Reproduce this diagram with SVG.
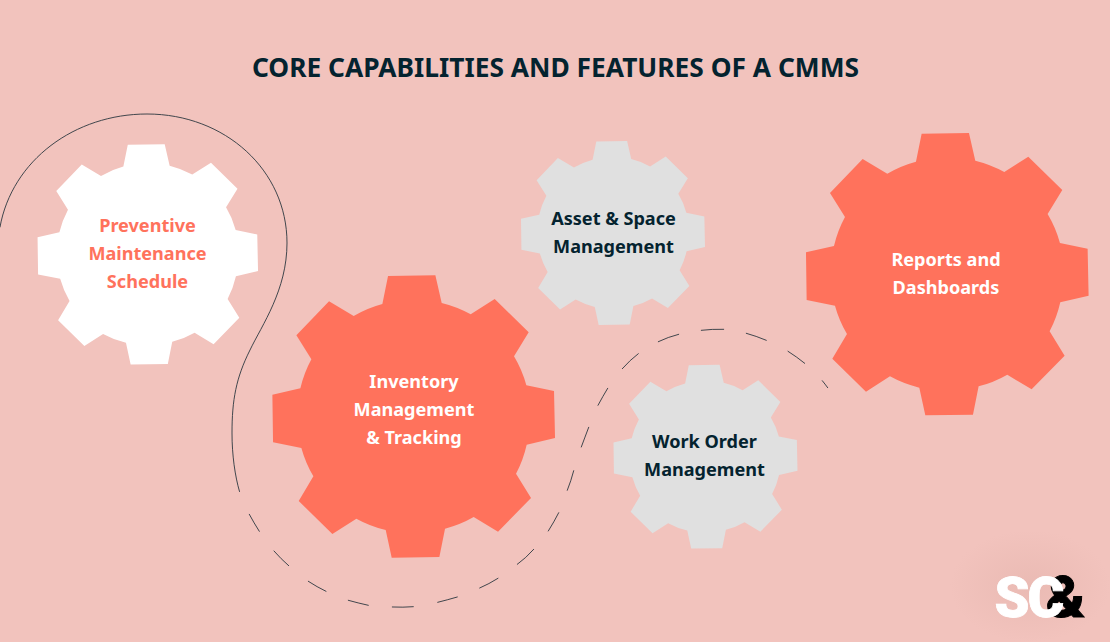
<svg xmlns="http://www.w3.org/2000/svg" width="1110" height="642" viewBox="0 0 1110 642">
<style>
.lbl{font-family:"Noto Sans",sans-serif;font-weight:700;font-size:18.1px;text-anchor:middle}
.w{fill:#fff}.o{fill:#ff725c}.d{fill:#04232f}.g{fill:#e0e0e0}
.ttl{font-family:"Noto Sans",sans-serif;font-weight:700;font-size:26.35px;text-anchor:middle;fill:#04232f}
.ln{fill:none;stroke:#2c3840;stroke-width:.9;stroke-linecap:round}
.logo{font-family:"Roboto",sans-serif;font-weight:900;font-size:56px}
</style>
<defs>
<path id="gear" d="M-94-337.500L-77-421.500L65-423.500L84-340.500A350 350 0 0 1 171-306.500L243-352.500L345-252.500L301-180.500A350 350 0 0 1 338-93.500L421-76.500L424 64.500L339 84.500A350 350 0 0 1 307 171.500L352 244.500L253 345.500L180 301.500A350 350 0 0 1 94 336.500L77 421.500L-66 423.500L-84 340.500A350 350 0 0 1-172 306.500L-244 352.500L-345 253.500L-301 179.500A350 350 0 0 1-337 94.500L-422 77.500L-424-65.500L-340-84.500A350 350 0 0 1-307-171.500L-352-243.500L-254-345.500L-180-301.500A350 350 0 0 1-94-337.500Z"/>
<radialGradient id="glow"><stop offset="0" stop-color="#e8b8b1" stop-opacity=".8"/><stop offset="1" stop-color="#e8b8b1" stop-opacity="0"/></radialGradient>
</defs>
<rect width="1110" height="642" fill="#f2c3bd"/>
<rect x="950" y="530" width="160" height="112" fill="url(#glow)"/>
<text class="ttl" x="555.500" y="77">CORE CAPABILITIES AND FEATURES OF A CMMS</text>
<g id="connectors">
<path class="ln" d="M0 227C12 160 75 114 147 114C225 114 287 170 287 243C287 290 262 325 250 350C236 378 232 400 232 433C232 455 235 476 239.500 491.500"/>
<path class="ln" d="M249.300 514.300Q254 523 259.300 531.300M274 551Q281 559 288.700 565.700M308.300 581.300Q317 587 326 591.300M348.300 600.300Q358 603 368.300 605.300M392.300 607Q403 607.500 413.300 606.700M437.700 602.300Q447 600 457.300 597M479.700 588Q489 584 498 578.300M517.300 564.300Q526 558 533.700 549.300M548.300 531Q554 522 558.700 512.700M567.300 490.300Q571 481 573.700 470.700M581.300 447Q585 437 588.700 427.300M598 405.300Q603 396 607.700 388.300M622.300 368.700Q630 360 638.300 353.700M658.300 341.700Q668 337 678.700 334.300M701.300 330.300Q712 329 723.700 329.300M746.300 333.300Q756 336 766.300 340.300M788 351.300Q797 357 804.700 363.300M822.300 380.700Q825 384 827.700 387.700"/>
</g>
<g id="preventive">
<use href="#gear" class="w" transform="translate(147.800 254.300) scale(.26)"/>
<text class="lbl o" x="147.500" y="232">Preventive</text>
<text class="lbl o" x="147.500" y="260">Maintenance</text>
<text class="lbl o" x="147.500" y="288">Schedule</text>
</g>
<g id="inventory">
<use href="#gear" class="o" transform="translate(413.700 416.500) scale(.3333)"/>
<text class="lbl w" x="414" y="388">Inventory</text>
<text class="lbl w" x="414" y="416">Management</text>
<text class="lbl w" x="414" y="444">&amp; Tracking</text>
</g>
<g id="asset">
<use href="#gear" class="g" transform="translate(613 233) scale(.217)"/>
<text class="lbl d" x="613.500" y="225">Asset &amp; Space</text>
<text class="lbl d" x="613.500" y="253">Management</text>
</g>
<g id="workorder">
<use href="#gear" class="g" transform="translate(705.500 456.700) scale(.217)"/>
<text class="lbl d" x="704.500" y="448">Work Order</text>
<text class="lbl d" x="704.500" y="476">Management</text>
</g>
<g id="reports">
<use href="#gear" class="o" transform="translate(947.300 274.200) scale(.3333)"/>
<text class="lbl w" x="946" y="266">Reports and</text>
<text class="lbl w" x="946" y="294">Dashboards</text>
</g>
<g id="logo">
<text class="logo" x="1046" y="617" fill="#000" stroke="#000" stroke-width="1" style="font-size:58px">&amp;</text>
<text class="logo" x="994.500" y="617" fill="#fff" stroke="#fff" stroke-width=".8" letter-spacing="-2">SC</text>
</g>
</svg>
